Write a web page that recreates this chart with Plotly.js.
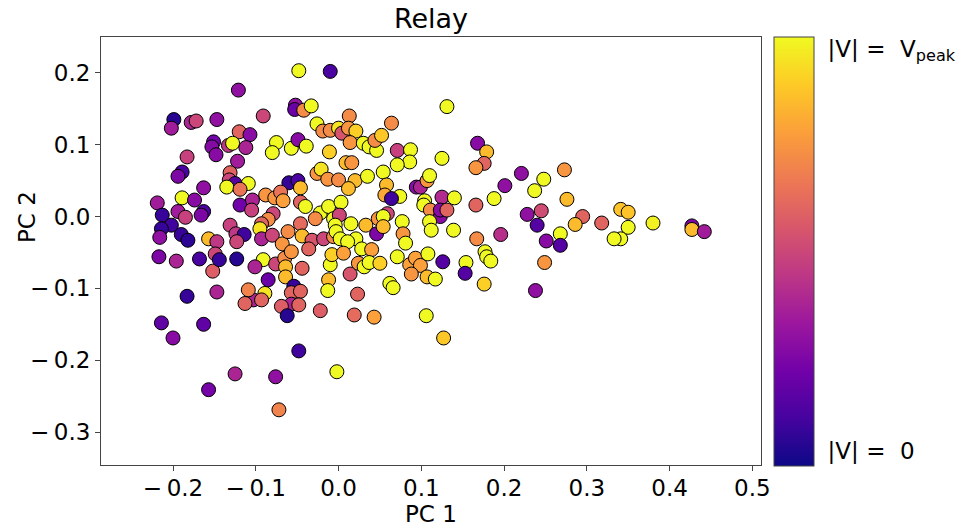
<!DOCTYPE html>
<html>
<head>
<meta charset="utf-8">
<script src="https://cdn.plot.ly/plotly-3.0.1.min.js"></script>
<style>html,body{margin:0;padding:0;background:#fff;}#chart{width:962px;height:528px;}</style>
</head>
<body>
<div id="chart"></div>
<script>
// PC 1 coordinates
const pcX = [
-0.199,-0.202,-0.178,-0.172,-0.147,-0.151,-0.153,-0.148,-0.183,-0.189,
-0.194,-0.163,-0.189,-0.174,-0.219,-0.194,-0.185,-0.213,-0.163,-0.166,
-0.202,-0.214,-0.190,-0.182,-0.216,-0.157,-0.147,-0.217,-0.196,-0.168,
-0.149,-0.152,-0.144,-0.183,-0.147,-0.214,-0.163,-0.200,-0.157,
-0.048,-0.010,-0.121,-0.052,-0.053,-0.042,-0.033,-0.091,-0.026,-0.019,
-0.010,-0.120,-0.107,-0.133,-0.128,-0.112,-0.075,-0.080,-0.057,-0.049,
-0.039,-0.011,-0.122,-0.131,-0.132,-0.125,-0.135,-0.109,-0.119,-0.026,
-0.021,-0.013,-0.060,-0.049,-0.046,-0.088,-0.077,-0.070,-0.067,-0.119,
-0.104,-0.105,-0.046,-0.040,-0.022,-0.028,-0.012,-0.079,-0.085,-0.093,
-0.095,-0.046,-0.131,-0.124,-0.114,-0.123,-0.093,-0.080,-0.068,-0.061,
-0.044,-0.032,-0.018,-0.006,-0.006,
-0.123,-0.091,-0.101,-0.076,-0.065,-0.064,-0.064,-0.057,-0.044,-0.036,
-0.085,-0.103,-0.109,-0.089,-0.093,-0.113,-0.054,-0.057,-0.046,-0.057,
-0.069,-0.048,-0.062,-0.022,-0.010,-0.012,-0.013,-0.008,-0.048,-0.125,
-0.076,-0.002,-0.072,
0.131,0.013,0.064,0.000,0.004,0.012,0.021,0.014,0.030,0.037,
0.046,0.044,0.052,0.071,0.087,0.086,0.071,0.125,0.009,0.016,
0.000,0.020,0.012,0.035,0.054,0.058,0.056,0.074,0.094,0.099,
0.107,0.110,0.125,0.104,0.103,0.003,0.001,0.064,0.048,0.059,
0.054,0.111,0.123,0.123,0.015,0.033,0.046,0.054,-0.004,-0.003,
0.002,0.077,0.078,0.081,0.110,0.112,0.021,0.011,0.028,0.040,
0.006,0.014,0.024,0.031,0.037,0.050,0.023,0.019,0.043,0.071,
0.062,0.066,0.086,0.093,0.099,0.088,0.108,0.107,0.117,0.126,
0.106,0.127,
0.168,0.179,0.176,0.166,0.221,0.273,0.201,0.248,0.237,0.188,
0.140,0.276,0.166,0.228,0.245,0.240,0.295,0.286,0.318,0.268,
0.268,0.251,0.196,0.167,0.139,0.131,0.177,0.154,0.153,0.179,
0.184,0.176,0.249,0.238,0.341,0.350,0.350,0.341,0.333,0.380,
0.427,0.427,0.442
];
// PC 2 coordinates
const pcY = [
0.135,0.123,0.131,0.133,0.135,0.104,0.097,0.086,0.083,0.062,
0.056,0.040,0.026,0.023,0.019,0.007,-0.001,0.002,0.007,0.002,
-0.012,-0.017,-0.025,-0.033,-0.029,-0.031,-0.035,-0.056,-0.062,-0.059,
-0.052,-0.076,-0.060,-0.111,-0.105,-0.148,-0.150,-0.169,-0.241,
0.203,0.202,0.176,0.155,0.149,0.148,0.154,0.140,0.129,0.119,
0.120,0.118,0.114,0.099,0.102,0.096,0.103,0.089,0.095,0.107,
0.098,0.090,0.077,0.061,0.051,0.046,0.041,0.046,0.038,0.060,
0.066,0.052,0.047,0.050,0.040,0.030,0.026,0.034,0.022,0.016,
0.023,0.009,0.020,0.014,0.005,-0.003,0.014,0.004,-0.004,-0.010,
-0.017,-0.010,-0.012,-0.024,-0.025,-0.035,-0.031,-0.026,-0.038,-0.021,
-0.027,-0.033,-0.031,-0.028,-0.003,
-0.059,-0.060,-0.070,-0.066,-0.058,-0.070,-0.084,-0.049,-0.072,-0.045,
-0.088,-0.116,-0.102,-0.107,-0.116,-0.121,-0.097,-0.106,-0.104,-0.122,
-0.125,-0.123,-0.138,-0.131,-0.067,-0.088,-0.103,-0.053,-0.187,-0.219,
-0.223,-0.216,-0.269,
0.153,0.140,0.130,0.123,0.116,0.123,0.119,0.103,0.102,0.097,
0.092,0.106,0.113,0.092,0.093,0.076,0.072,0.081,0.075,0.075,
0.051,0.050,0.039,0.056,0.062,0.044,0.030,0.028,0.041,0.041,
0.050,0.057,0.027,0.022,0.016,0.020,0.002,0.025,-0.003,0.004,
0.000,0.009,0.000,0.009,-0.010,-0.012,-0.024,-0.014,-0.012,-0.021,
-0.031,-0.007,-0.024,-0.037,-0.007,-0.019,-0.031,-0.035,-0.045,-0.046,
-0.051,-0.080,-0.065,-0.070,-0.064,-0.065,-0.108,-0.137,-0.140,-0.056,
-0.093,-0.099,-0.067,-0.058,-0.068,-0.080,-0.052,-0.084,-0.087,-0.063,
-0.138,-0.169,
0.102,0.090,0.074,0.068,0.060,0.065,0.043,0.052,0.036,0.025,
0.026,0.024,0.016,0.003,0.008,-0.012,0.000,-0.011,-0.009,-0.024,
-0.040,-0.034,-0.025,-0.031,-0.019,0.009,-0.049,-0.064,-0.079,-0.056,
-0.062,-0.094,-0.064,-0.103,0.010,0.006,-0.015,-0.031,-0.031,-0.009,
-0.013,-0.018,-0.021
];
// |V| / V_peak
const vNorm = [
0.05,0.35,0.38,0.50,0.30,0.22,0.27,0.28,0.48,0.12,
0.25,0.30,1.00,0.28,0.35,0.35,0.48,0.08,0.13,0.25,
0.10,0.08,0.08,0.06,0.30,0.85,0.45,0.25,0.38,0.12,
0.50,0.58,0.08,0.08,0.38,0.18,0.18,0.28,0.23,
1.00,0.12,0.30,0.30,0.20,0.72,1.00,0.50,1.00,0.72,
0.72,0.60,0.28,0.45,1.00,0.38,1.00,1.00,1.00,0.28,
1.00,0.90,0.35,0.60,0.50,0.15,1.00,1.00,0.65,0.75,
0.95,0.75,0.08,0.12,0.85,0.75,0.75,0.65,0.78,0.22,
0.38,0.48,0.60,1.00,1.00,0.72,1.00,0.50,0.72,0.60,
0.95,0.62,0.48,0.45,0.10,0.50,0.38,0.50,0.75,0.72,
0.85,0.55,0.50,0.72,1.00,
0.05,1.00,0.38,0.50,0.72,0.85,0.85,0.75,0.60,0.60,
0.20,0.38,0.70,0.95,0.60,0.60,0.08,0.60,0.60,0.38,
0.58,0.60,0.05,0.58,1.00,0.85,1.00,0.90,0.10,0.38,
0.30,1.00,0.70,
1.00,0.72,0.72,0.95,0.55,0.75,0.90,0.75,1.00,1.00,
1.00,0.72,0.88,0.48,1.00,1.00,1.00,1.00,0.85,0.75,
0.72,0.85,0.85,1.00,1.00,0.85,0.80,1.00,0.28,0.38,
0.75,1.00,0.40,1.00,1.00,1.00,0.50,0.10,0.75,0.50,
1.00,0.72,0.28,0.28,1.00,0.85,0.25,0.85,1.00,1.00,
1.00,1.00,0.75,1.00,1.00,1.00,1.00,1.00,1.00,0.78,
0.78,0.55,0.75,1.00,1.00,0.90,0.60,0.62,0.78,1.00,
1.00,1.00,0.78,0.78,0.78,0.75,1.00,0.85,1.00,0.15,
1.00,0.88,
0.28,0.85,0.60,0.75,0.30,0.75,0.30,1.00,1.00,1.00,
1.00,0.85,0.60,0.30,0.52,0.15,0.60,0.85,0.60,1.00,
0.15,0.28,0.42,0.72,1.00,0.60,1.00,1.00,0.15,1.00,
1.00,0.90,0.75,0.30,0.87,0.87,1.00,1.00,1.00,0.98,
0.25,0.85,0.35
];
const xTickVals = [-0.2,-0.1,0.0,0.1,0.2,0.3,0.4,0.5];
const xTickText = ['\u2212\u20090.2','\u2212\u20090.1','0.0','0.1','0.2','0.3','0.4','0.5'];
const yTickVals = [0.2,0.1,0.0,-0.1,-0.2,-0.3];
const yTickText = ['0.2','0.1','0.0','\u2212\u20090.1','\u2212\u20090.2','\u2212\u20090.3'];
const cbTickVals = [0.035,0.972];
const cbTickText = ['|V| =\u00a0 0','|V| =\u00a0 V<sub>peak</sub>'];

const plasma = [
[0.0,'#0d0887'],[0.1111,'#46039f'],[0.2222,'#7201a8'],[0.3333,'#9c179e'],
[0.4444,'#bd3786'],[0.5556,'#d8576b'],[0.6667,'#ed7953'],[0.7778,'#fb9f3a'],
[0.8889,'#fdca26'],[1.0,'#f0f921']
];
const font = 'DejaVu Sans, sans-serif';
const fs = 23;

const trace = {
  type:'scatter', mode:'markers', x:pcX, y:pcY,
  marker:{
    size:14, color:vNorm, cmin:0, cmax:1, colorscale:plasma, opacity:1,
    line:{color:'#000', width:1},
    showscale:true,
    colorbar:{
      x:1.0197, xanchor:'left', xpad:0, y:0.5, yanchor:'middle', ypad:0,
      len:1.002, lenmode:'fraction', thickness:40, thicknessmode:'pixels',
      outlinewidth:1, outlinecolor:'#444',
      tickmode:'array', tickvals:cbTickVals, ticktext:cbTickText,
      ticks:'outside', ticklen:9, tickcolor:'rgba(0,0,0,0)',
      tickfont:{family:font, size:fs, color:'#000'}
    }
  },
  hoverinfo:'skip'
};

const axisCommon = {
  showgrid:false, zeroline:false, showline:true, mirror:true,
  linecolor:'#444', linewidth:1, ticks:'outside', ticklen:5, tickwidth:1,
  tickcolor:'#444', tickfont:{family:font, size:fs, color:'#000'}
};

const layout = {
  width:962, height:528,
  margin:{l:101, r:201, t:37, b:63, pad:0, autoexpand:false},
  paper_bgcolor:'#fff', plot_bgcolor:'#fff',
  showlegend:false,
  title:{text:'Relay', font:{family:font, size:27, color:'#000'},
    x:0.5, xref:'paper', xanchor:'center', y:1-19/528, yref:'container', yanchor:'middle'},
  xaxis:Object.assign({}, axisCommon, {
    range:[-0.287,0.5105], tickmode:'array', tickvals:xTickVals, ticktext:xTickText,
    ticklabelstandoff:-3
  }),
  yaxis:Object.assign({}, axisCommon, {
    range:[-0.3458,0.2499], tickmode:'array', tickvals:yTickVals, ticktext:yTickText
  }),
  annotations:[
    {text:'PC 1', xref:'paper', yref:'paper', x:0.5, y:(465-514)/428,
     xanchor:'center', yanchor:'middle', showarrow:false,
     font:{family:font, size:fs, color:'#000'}},
    {text:'PC 2', xref:'paper', yref:'paper', x:(27-101)/660, y:(465-217)/428,
     xanchor:'center', yanchor:'middle', textangle:-90, showarrow:false,
     font:{family:font, size:fs, color:'#000'}}
  ]
};

Plotly.newPlot('chart',[trace],layout,{displayModeBar:false, staticPlot:true});
</script>
</body>
</html>
